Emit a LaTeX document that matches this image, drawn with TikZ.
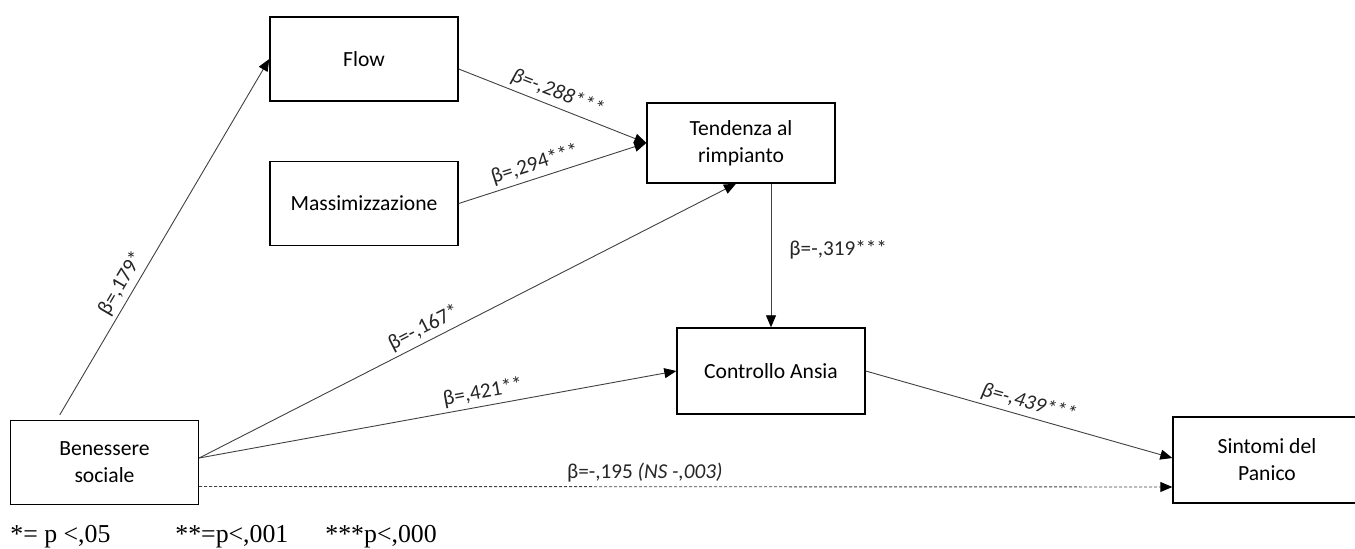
\documentclass[tikz,border=0pt]{standalone}
\usepackage{fontspec}
\setmainfont{Carlito}
\newfontfamily\legendfont{Liberation Serif}
\usetikzlibrary{arrows.meta,calc}

\begin{document}
\begin{tikzpicture}[x=0.5pt,y=-0.5pt,
  box/.style={draw=black, line width=0.7pt, minimum width=94pt, minimum height=42pt,
    inner sep=0pt, align=center, font=\fontsize{10.8}{13.5}\selectfont},
  arr/.style={draw=black!75, line width=0.45pt,
    -{Triangle[length=6pt,width=5pt,color=black]}},
  lbl/.style={font=\fontsize{10.6}{12}\selectfont, text=black!85, inner sep=2pt},
  legend/.style={font=\legendfont\fontsize{12.9}{14}\selectfont, inner sep=0pt, anchor=west},
]
\useasboundingbox (0,0) rectangle (1355,549);

% variables
\node[box] (flow) at (364,59) {Flow};
\node[box] (mass) at (364,203.5) {Massimizzazione};
\node[box, minimum height=40pt] (tend) at (741,143) {Tendenza al\\rimpianto};
\node[box, minimum height=43pt] (ctrl) at (771,371) {Controllo Ansia};
\node[box] (ben) at (104.5,462.5) {Benessere\\sociale};
\node[box, minimum height=43pt] (sint) at (1267,460) {Sintomi del\\Panico};

% connector end points
\coordinate (benTop) at ($(ben.north west)+(50,-5)$);
\coordinate (benOut) at ($(ben.east)+(0,-4.5)$);
\coordinate (benLow) at ($(ben.east)+(0,24)$);
\coordinate (flowOut) at ($(flow.east)+(0,10)$);
\coordinate (tendIn) at ($(tend.south)+(-5,0)$);
\coordinate (sintIn) at ($(sint.west)+(0,-2)$);
\coordinate (sintLow) at ($(sint.west)+(0,27)$);

% paths
\draw[arr] (benTop) -- node[lbl,sloped,above,pos=0.35] {β=,179*} (flow.west);
\draw[arr] (flowOut) -- node[lbl,sloped,above,pos=0.5] {\itshape β=-,288***} (tend.west);
\draw[arr] (mass.east) -- node[lbl,sloped,above,pos=0.43] {β=,294***} (tend.west);
\draw[arr] (benOut) -- node[lbl,sloped,above,pos=0.43] {β=-,167*} (tendIn);
\draw[arr] (benOut) -- node[lbl,sloped,above,pos=0.6] {β=,421**} (ctrl.west);
\draw[arr] (tend.south -| ctrl.north) -- node[lbl,right,pos=0.46,xshift=7pt] {β=-,319***} (ctrl.north);
\draw[arr] (ctrl.east) -- node[lbl,sloped,above,pos=0.52] {\itshape β=-,439***} (sintIn);
\draw[arr, dash pattern=on 1.5pt off 1pt] (benLow) -- node[lbl,above,pos=0.458] {β=-,195 \textit{(NS -,003)}} (sintLow);

% significance legend
\node[legend] (l1) at (10,537) {*= p <,05};
\node[legend] (l2) at (175,537) {**=p<,001};
\node[legend] (l3) at (325,537) {***p<,000};
\end{tikzpicture}
\end{document}
